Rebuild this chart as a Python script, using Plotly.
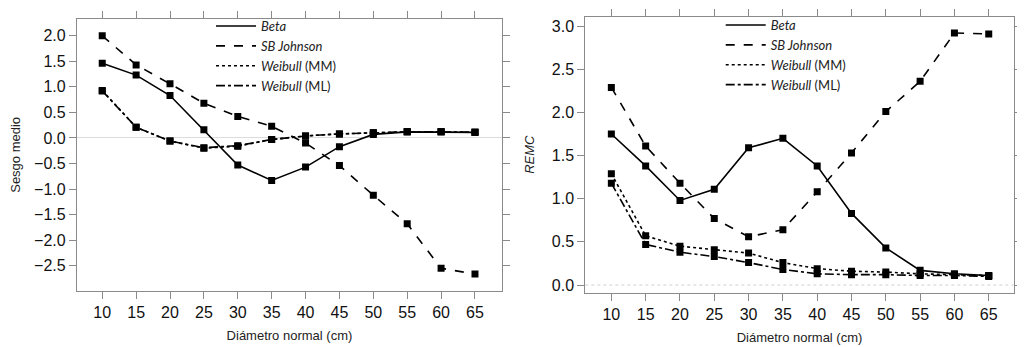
import plotly.graph_objects as go

diametro = [10, 15, 20, 25, 30, 35, 40, 45, 50, 55, 60, 65]

# Sesgo medio (left panel)
sesgo_beta = [1.46, 1.23, 0.83, 0.16, -0.53, -0.83, -0.57, -0.17, 0.07, 0.12, 0.12, 0.11]
sesgo_sbj = [2.00, 1.43, 1.06, 0.68, 0.42, 0.23, -0.10, -0.54, -1.12, -1.68, -2.55, -2.66]
sesgo_wmm = [0.93, 0.21, -0.06, -0.20, -0.16, -0.03, 0.04, 0.08, 0.10, 0.12, 0.12, 0.11]
sesgo_wml = [0.92, 0.21, -0.06, -0.19, -0.15, -0.03, 0.04, 0.08, 0.10, 0.12, 0.12, 0.11]

# REMC (right panel)
remc_beta = [1.75, 1.38, 0.98, 1.11, 1.59, 1.70, 1.38, 0.83, 0.43, 0.17, 0.13, 0.11]
remc_sbj = [2.29, 1.61, 1.18, 0.77, 0.56, 0.64, 1.08, 1.53, 2.01, 2.36, 2.92, 2.91]
remc_wmm = [1.29, 0.57, 0.45, 0.41, 0.37, 0.26, 0.19, 0.16, 0.15, 0.13, 0.12, 0.11]
remc_wml = [1.18, 0.47, 0.38, 0.33, 0.26, 0.18, 0.13, 0.12, 0.12, 0.11, 0.11, 0.10]

names = ["<i>Beta</i>", "<i>SB Johnson</i>", "<i>Weibull</i> (MM)", "<i>Weibull</i> (ML)"]
dashes = ["solid", "dash", "dot", "dashdot"]

y_ticks_left = [2.0, 1.5, 1.0, 0.5, 0.0, -0.5, -1.0, -1.5, -2.0, -2.5]
y_ticks_right = [0.0, 0.5, 1.0, 1.5, 2.0, 2.5, 3.0]

fig = go.Figure()

left = [sesgo_beta, sesgo_sbj, sesgo_wmm, sesgo_wml]
right = [remc_beta, remc_sbj, remc_wmm, remc_wml]

for vals, nm, ds in zip(left, names, dashes):
    fig.add_trace(go.Scatter(x=diametro, y=vals, mode="lines", name=nm,
                             line=dict(color="black", width=1.6, dash=ds),
                             xaxis="x", yaxis="y", legend="legend"))
for vals in left:
    fig.add_trace(go.Scatter(x=diametro, y=vals, mode="markers", showlegend=False,
                             marker=dict(symbol="square", size=7, color="black"),
                             xaxis="x", yaxis="y"))
for vals, nm, ds in zip(right, names, dashes):
    fig.add_trace(go.Scatter(x=diametro, y=vals, mode="lines", name=nm,
                             line=dict(color="black", width=1.6, dash=ds),
                             xaxis="x2", yaxis="y2", legend="legend2"))
for vals in right:
    fig.add_trace(go.Scatter(x=diametro, y=vals, mode="markers", showlegend=False,
                             marker=dict(symbol="square", size=7, color="black"),
                             xaxis="x2", yaxis="y2"))

axis_common = dict(showline=True, linecolor="#8a8a8a", linewidth=1.2, mirror="ticks",
                   ticks="outside", ticklen=7, tickcolor="#8a8a8a", tickwidth=1,
                   showgrid=False, tickfont=dict(family="Liberation Sans", size=16, color="#111"))
title_font = dict(family="Liberation Sans", size=13, color="#222")

# page has an 8px body margin, so figure coordinates are shifted by 8px
fig.update_layout(
    width=1017, height=339,
    margin=dict(l=0, r=0, t=0, b=0),
    paper_bgcolor="white", plot_bgcolor="white",
    showlegend=True,
    xaxis=dict(domain=[0.0678, 0.4857], range=[6.27, 68.98], tickvals=diametro,
               title=dict(text="Diámetro normal (cm)", font=title_font, standoff=10),
               zeroline=False, anchor="y", **axis_common),
    yaxis=dict(domain=[0.1652, 0.9794], range=[-2.99, 2.33], tickvals=y_ticks_left,
               tickformat=".1f",
               title=dict(text="Sesgo medio", font=title_font, standoff=13),
               zeroline=True, zerolinecolor="#dcdcdc", zerolinewidth=1.2, anchor="x", **axis_common),
    xaxis2=dict(domain=[0.5677, 0.9889], range=[6.21, 68.64], tickvals=diametro,
                title=dict(text="Diámetro normal (cm)", font=title_font, standoff=10),
                zeroline=False, anchor="y2", **axis_common),
    yaxis2=dict(domain=[0.1593, 0.9861], range=[-0.09, 3.11], tickvals=y_ticks_right,
                tickformat=".1f",
                title=dict(text="<i>REMC</i>", font=title_font, standoff=14),
                zeroline=False, anchor="x2", **axis_common),
    legend=dict(x=0.1996, y=1.003, xanchor="left", yanchor="top", bgcolor="rgba(0,0,0,0)",
                font=dict(family="Lato", size=13, color="#222"), tracegroupgap=0,
                itemwidth=40),
    legend2=dict(x=0.7008, y=1.006, xanchor="left", yanchor="top", bgcolor="rgba(0,0,0,0)",
                 font=dict(family="Lato", size=13, color="#222"), tracegroupgap=0,
                 itemwidth=40),
    shapes=[dict(type="line", xref="x2 domain", yref="y2", x0=0, x1=1, y0=0, y1=0,
                 line=dict(color="#cfcfcf", width=1, dash="dot"), layer="below")],
)

fig.write_html("out.html")
